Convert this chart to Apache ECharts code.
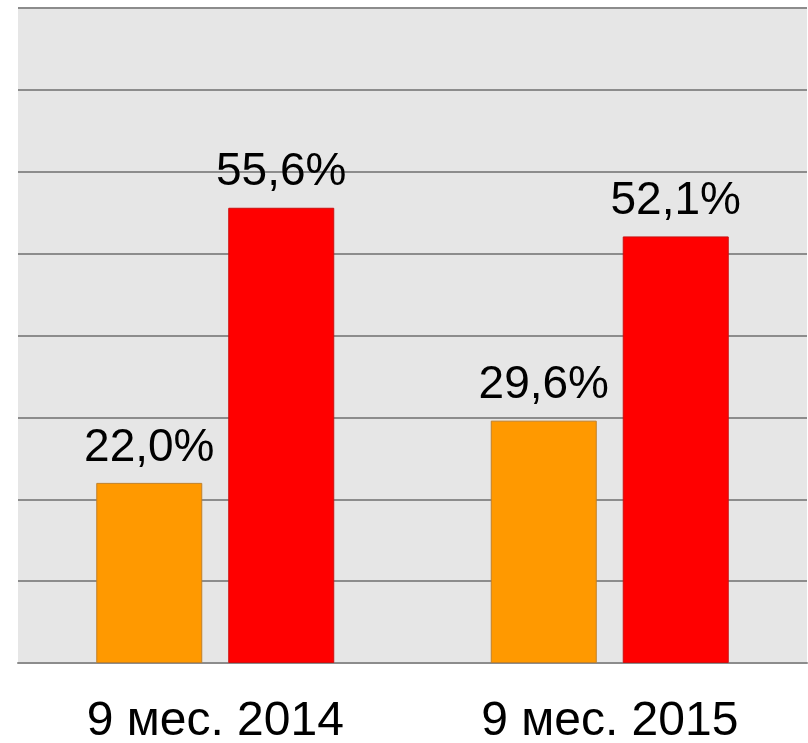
<!DOCTYPE html>
<html>
<head>
<meta charset="utf-8">
<script src="https://cdn.jsdelivr.net/npm/echarts@6/dist/echarts.min.js"></script>
<style>
  html, body { margin: 0; padding: 0; background: #fff; }
  #chart { width: 808px; height: 743px; }
</style>
</head>
<body>
<div id="chart"></div>
<script>
var categories = ['9 мес. 2014', '9 мес. 2015']
var seriesA = [22.0, 29.6]
var seriesB = [55.6, 52.1]

var chart = echarts.init(document.getElementById('chart'))

function fmt(p) {
  return p.value.toFixed(1).replace('.', ',') + '%'
}

var labelStyle = {
  show: true,
  position: 'top',
  distance: 12,
  formatter: fmt,
  color: '#000',
  fontSize: 46,
  fontFamily: 'Liberation Sans, Arial, sans-serif'
}

chart.setOption({
  animation: false,
  grid: {
    left: 18,
    right: 1,
    top: 8,
    bottom: 80,
    outerBoundsMode: 'none',
    containLabel: false,
    show: true,
    backgroundColor: '#e6e6e6',
    borderWidth: 0
  },
  xAxis: {
    type: 'category',
    data: categories,
    axisTick: { show: false },
    axisLine: { lineStyle: { color: '#8c8c8c', width: 2 } },
    axisLabel: {
      margin: 35,
      color: '#000',
      fontSize: 48,
      fontFamily: 'Liberation Sans, Arial, sans-serif'
    }
  },
  yAxis: {
    type: 'value',
    min: 0,
    max: 80,
    interval: 10,
    axisLabel: { show: false },
    axisLine: { show: false },
    axisTick: { show: false },
    splitLine: { lineStyle: { color: '#8c8c8c', width: 2 } }
  },
  series: [
    {
      type: 'bar',
      data: seriesA,
      barWidth: 106,
      barGap: '24.5%',
      itemStyle: { color: '#ff9900', borderColor: '#c0802a', borderWidth: 1 },
      label: labelStyle
    },
    {
      type: 'bar',
      data: seriesB,
      barWidth: 106,
      itemStyle: { color: '#ff0000', borderColor: '#cc1010', borderWidth: 1 },
      label: labelStyle
    }
  ]
})
</script>
</body>
</html>
